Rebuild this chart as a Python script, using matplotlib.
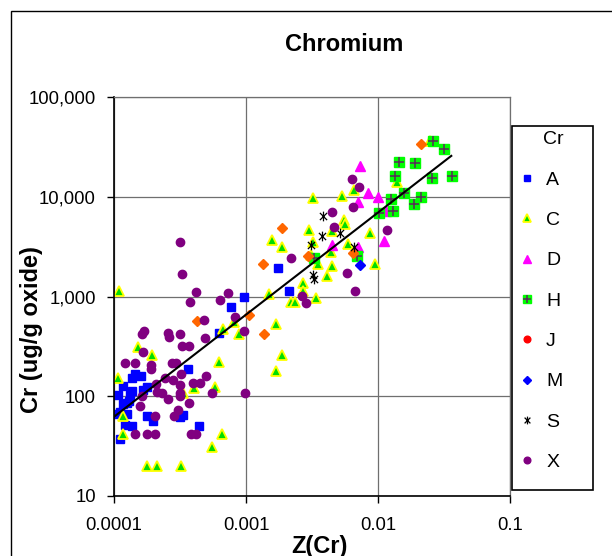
import matplotlib
matplotlib.use("Agg")
import matplotlib.pyplot as plt
from matplotlib.path import Path
from matplotlib.patches import Rectangle
from matplotlib.legend_handler import HandlerTuple

plt.rcParams['font.family'] = ['Liberation Sans', 'DejaVu Sans']

# Series values (Z(Cr), Cr in ug/g oxide)
a_x = [0.00174, 0.0021, 0.00096, 0.000776, 0.000625, 0.000366, 0.000144, 0.000137, 0.00016, 0.000117,
       0.000138, 0.000165, 0.000177, 0.000108, 0.000132, 0.00013, 0.000118, 0.000125, 0.000111, 0.000125,
       0.000105, 0.000318, 0.000336, 0.000177, 0.000199, 0.000121, 0.000137, 0.00044, 0.000112]
a_y = [1930, 1130, 1000, 790, 427, 188, 167, 154, 159, 126,
       112, 115, 124, 103, 103, 89, 83, 85, 70, 67,
       67, 62, 65, 64, 57, 51, 50, 50, 37]

c_x = [0.00011, 0.00149, 0.00158, 0.00186, 0.00221, 0.00234, 0.000807, 0.00168, 0.000671, 0.000881,
       0.000153, 0.000195, 0.00188, 0.000621, 0.0017, 0.000108, 0.000401, 0.000586, 0.000336, 0.000116,
       0.000116, 0.000662, 0.000556, 0.000177, 0.000211, 0.000324, 0.0139, 0.00653, 0.00322, 0.00532,
       0.00555, 0.00561, 0.00452, 0.00301, 0.00873, 0.00322, 0.00589, 0.00309, 0.0044, 0.00352,
       0.00445, 0.00948, 0.00414, 0.00272, 0.00269, 0.00342, 0.0246]
c_y = [1130, 1060, 3680, 3130, 873, 873, 550, 525, 468, 417,
       313, 258, 258, 221, 180, 154, 122, 124, 107, 64,
       42, 42, 31, 20, 20, 20, 14100, 11700, 9640, 10200,
       5840, 5320, 4530, 4630, 4360, 3490, 3360, 2600, 2810, 2100,
       2030, 2110, 1610, 1350, 1130, 970, 36500]

d_x = [0.00726, 0.00836, 0.01004, 0.00708, 0.0115, 0.01117, 0.00445, 0.00708]
d_y = [20300, 10800, 10000, 8910, 7240, 3590, 3280, 3150]

h_x = [0.0261, 0.0316, 0.01435, 0.0192, 0.01346, 0.0256, 0.0363, 0.01567, 0.0212, 0.01256,
       0.01888, 0.01294, 0.0101, 0.00328, 0.00692]
h_y = [36500, 30300, 22400, 21600, 16100, 15500, 16100, 11000, 10000, 9420,
       8510, 7240, 6920, 2450, 2560]

j_x = []
j_y = []

m_x = [0.00726]
m_y = [2080]

s_x = [0.00384, 0.00375, 0.00516, 0.00313, 0.00661, 0.00322, 0.00328]
s_y = [6400, 4040, 4300, 3260, 3150, 1640, 1500]

x_x = [0.000314, 0.000325, 0.00218, 0.000421, 0.000728, 0.000379, 0.00064, 0.000828, 0.000483, 0.00096,
       0.00017, 0.000164, 0.000256, 0.000261, 0.000318, 0.00049, 0.000329, 0.00037, 0.000167, 0.000121,
       0.000145, 0.00019, 0.00019, 0.000276, 0.000296, 0.000242, 0.000319, 0.000494, 0.000282, 0.000318,
       0.000394, 0.000451, 0.000207, 0.000213, 0.000232, 0.000553, 0.000975, 0.000314, 0.000314, 0.000164,
       0.000258, 0.000158, 0.00037, 0.000305, 0.000286, 0.000205, 0.000145, 0.000178, 0.000205, 0.000383,
       0.000421, 0.00634, 0.00721, 0.00643, 0.00447, 0.00466, 0.01164, 0.00578, 0.00267, 0.00668, 0.00287]
x_y = [3540, 1680, 2410, 1115, 1090, 873, 920, 626, 580, 450,
       450, 417, 427, 394, 420, 380, 320, 320, 279, 213,
       213, 205, 187, 213, 213, 154, 166, 160, 147, 131,
       135, 135, 132, 111, 108, 107, 107, 107, 100, 100,
       93, 80, 85, 73, 64, 64, 42, 42, 42, 42,
       42, 14960, 12500, 7940, 7080, 4930, 4630, 1710, 1010, 1130, 865]

# points drawn as orange diamonds (not in the legend)
o_x = [0.00186, 0.00134, 0.00106, 0.000425, 0.00137, 0.021, 0.00297, 0.00643]
o_y = [4890, 2110, 651, 567, 417, 33800, 2560, 2740]

# power trendline y = a * x^b
trend_a = 7.74e5
trend_b = 1.0236
trend_x = [0.0001, 0.0359]

x_ticks = [0.0001, 0.001, 0.01, 0.1]
x_labels = ['0.0001', '0.001', '0.01', '0.1']
y_ticks = [10, 100, 1000, 10000, 100000]
y_labels = ['10', '100', '1,000', '10,000', '100,000']

W, H = 612, 556
fig = plt.figure(figsize=(W / 100, H / 100), dpi=100)
ax = fig.add_axes([114 / W, 1 - 496 / H, 396 / W, 399 / H])

star = Path([(-1, -1), (1, 1), (-1, 1), (1, -1), (0, -1.35), (0, 1.35)],
            [Path.MOVETO, Path.LINETO] * 3)

la, = ax.plot(a_x, a_y, ls='none', marker='s', ms=6.2, color='#0000ff', mec='#0000ff')
lc, = ax.plot(c_x, c_y, ls='none', marker='^', ms=6.8, mfc='#00dd00', mec='#ffff00', mew=1.3)
ld, = ax.plot(d_x, d_y, ls='none', marker='^', ms=7, color='#ff00ff')
lh, = ax.plot(h_x, h_y, ls='none', marker='s', ms=7.4, color='#00ff00')
lh2, = ax.plot(h_x, h_y, ls='none', marker='+', ms=7, color='#5a2a5a', mew=1.1)
ax.plot(o_x, o_y, ls='none', marker='D', ms=4.6, color='#ff6600')
lj, = ax.plot(j_x, j_y, ls='none', marker='o', ms=6, color='#ff0000')
lm, = ax.plot(m_x, m_y, ls='none', marker='D', ms=4.6, color='#0000ff')
ls_, = ax.plot(s_x, s_y, ls='none', marker=star, ms=7, color='black', mew=0.9, mfc='none')
lx, = ax.plot(x_x, x_y, ls='none', marker='o', ms=6, color='#800080')

ty = [trend_a * v ** trend_b for v in trend_x]
ax.plot(trend_x, ty, color='black', lw=1.5, zorder=5)

ax.set_xscale('log')
ax.set_yscale('log')
ax.set_xlim(0.0001, 0.1)
ax.set_ylim(10, 100000)
ax.minorticks_off()
ax.set_xticks(x_ticks)
ax.set_xticklabels(x_labels)
ax.set_yticks(y_ticks)
ax.set_yticklabels(y_labels)
ax.tick_params(axis='both', direction='out', length=5, width=1, labelsize=13.3, color='black')
ax.tick_params(axis='x', pad=10)
ax.tick_params(axis='y', pad=8)
ax.grid(True, color='#6f6f6f', lw=0.9)
ax.set_axisbelow(True)
for side in ['top', 'right']:
    ax.spines[side].set_color('#6f6f6f')
    ax.spines[side].set_linewidth(0.9)
for side in ['left', 'bottom']:
    ax.spines[side].set_color('black')
    ax.spines[side].set_linewidth(1.2)

fig.text(344 / W, 1 - 45 / H, 'Chromium', fontsize=17, fontweight='bold', ha='center', va='center')
fig.text(319 / W, 1 - 546 / H, 'Z(Cr)', fontsize=17, fontweight='bold', ha='center', va='center')
fig.text(32 / W, 1 - 330 / H, 'Cr (ug/g oxide)', fontsize=17, fontweight='bold',
         ha='center', va='center', rotation=90)

# chart border and legend box
fig.add_artist(Rectangle((11 / W, -0.1), 1.0, 1.1 - 11 / H, transform=fig.transFigure,
                         fill=False, ec='black', lw=1))
fig.add_artist(Rectangle((512 / W, 1 - 490 / H), 81 / W, 364 / H, transform=fig.transFigure,
                         fill=False, ec='black', lw=1.2))
fig.text(553 / W, 1 - 140 / H, 'Cr', fontsize=14, ha='center', va='center')

handles = [la, lc, ld, (lh, lh2), lj, lm, ls_, lx]
labels = ['A', 'C', 'D', 'H', 'J', 'M', 'S', 'X']
ax.legend(handles, labels, loc='upper left', bbox_to_anchor=(517 / W, 1 - 171 / H),
          bbox_transform=fig.transFigure, frameon=False, fontsize=14, labelspacing=1.17,
          handlelength=1.0, handletextpad=0.5, borderpad=0, borderaxespad=0, markerscale=0.8,
          handler_map={tuple: HandlerTuple(ndivide=1)})

fig.savefig('out.png', dpi=100, facecolor='white')
